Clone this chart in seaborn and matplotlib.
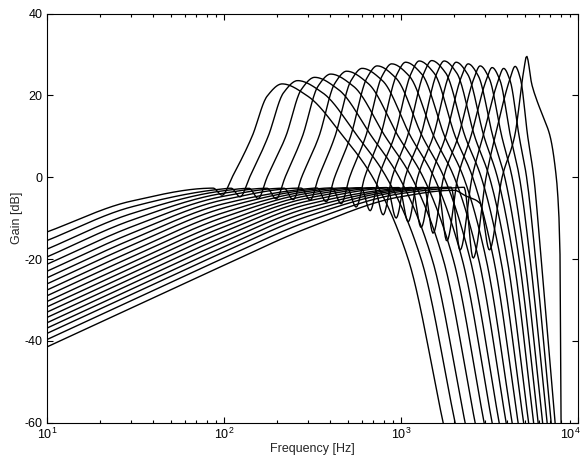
import numpy as np
import pandas as pd
import matplotlib
matplotlib.use("Agg")
import matplotlib.pyplot as plt
import matplotlib.transforms as mtransforms
import seaborn as sns

nan = np.nan
channels = list(range(19))

# ---- values (frequency in Hz, gain in dB) ----
tail_10hz = [-13.4, -15.5, -17.6, -19.5, -21.3, -23.0, -24.6, -26.1, -27.6, -29.0,
             -30.4, -31.7, -33.0, -34.3, -35.6, -36.9, -38.2, -39.7, -41.5]
tail_30hz = [-5.85, -7.28, -8.92, -10.53, -12.15, -13.73, -15.24, -16.69, -18.15, -19.53,
             -20.91, -22.19, -23.49, -24.78, -26.07, -27.37, -28.67, -30.16, -31.96]
tail_100hz = [nan, -2.84, -3.31, -3.91, -4.65, -5.52, -6.49, -7.51, -8.65, -9.78,
              -10.98, -12.14, -13.33, -14.55, -15.78, -17.04, -18.3, -19.77, -21.55]
tail_300hz = [nan, nan, nan, nan, nan, nan, -2.80, -3.09, -3.47, -3.92,
              -4.47, -5.09, -5.80, -6.60, -7.50, -8.47, -9.51, -10.78, -12.37]
tail_1khz = [nan] * 13 + [-2.68, -2.90, -3.17, -3.51, -4.01, -4.77]
tail_2khz = [nan] * 17 + [-2.6, -3.2]

dip_hz = [87.0, 110, 139.0, 175.6, 219.1, 273.4, 336.6, 409.1, 497.2, 596.7,
          706.8, 836.5, 978.1, 1158, 1354, 1618, 1924, 2278, 2308]
dip_db = [-2.68, -2.70, -2.73, -2.71, -2.70, -2.67, -2.64, -2.62, -2.59, -2.57,
          -2.56, -2.54, -2.54, -2.52, -2.51, -2.48, -2.46, -2.47, -4.5]
notch_hz = [97.8, 123.6, 156.2, 197.5, 246.3, 307.3, 378.4, 459.9, 559, 670.9,
            794.3, 940.6, 1100, 1302, 1522, 1819, 2163, 2562, 3167]
notch_db = [-4.4, -4.8, -5.2, -5.3, -5.5, -5.6, -6.0, -6.5, -7.3, -8.2,
            -9.2, -10.0, -10.9, -12.3, -13.7, -15.6, -17.8, -19.8, -17.8]
rise0_hz = [111.4, 139.9, 175.6, 222, 275.1, 343.2, 422.7, 513.6, 624.5, 749.1,
            892.9, 1058, 1244, 1483, 1745, 2099, 2528, 3033, 3736]
rise10_hz = [144.5, 178.1, 224, 278.1, 345, 424.8, 520.4, 633.4, 765.9, 920,
             1091, 1294, 1524, 1793, 2113, 2489, 2913, 3410, 4395]
lshoulder_hz = [175.6, 217.1, 273.7, 340.1, 423.2, 523.1, 642.5, 783, 949.3, 1144,
                1352, 1597, 1877, 2206, 2592, 3042, 3550, 4144, 4972]
lshoulder_db = [19.8, 20.6, 21.4, 22.2, 22.9, 23.6, 24.2, 24.7, 25.1, 25.4,
                25.5, 25.4, 25.1, 24.7, 24.2, 23.8, 23.6, 24.1, 26.6]
peak_hz = [213.5, 261.2, 325.8, 401.2, 494, 604.5, 734.5, 887.2, 1064, 1269,
           1493, 1756, 2053, 2400, 2805, 3279, 3809, 4424, 5136]
peak_db = [22.8, 23.6, 24.4, 25.2, 25.9, 26.6, 27.2, 27.7, 28.1, 28.4,
           28.5, 28.4, 28.1, 27.7, 27.2, 26.8, 26.6, 27.1, 29.6]
rshoulder_hz = [297.9, 362, 444.6, 540.5, 654, 787, 939.5, 1117, 1318, 1544,
                1791, 2074, 2390, 2744, 3155, 3625, 4144, 4739, 5496]
rshoulder_db = [19.8, 20.6, 21.4, 22.2, 22.9, 23.6, 24.2, 24.7, 25.1, 25.4,
                25.5, 25.4, 25.1, 24.7, 24.2, 23.8, 23.6, 24.1, 22.7]
fall10_hz = [472, 569, 683, 815, 967, 1135, 1321, 1536, 1768, 2029,
             2305, 2612, 2948, 3310, 3717, 4166, 4660, 5211, 6974]
fall0_hz = [693, 829, 978, 1150, 1337, 1540, 1754, 2003, 2261, 2545,
            2846, 3167, 3514, 3864, 4254, 4678, 5136, 5641, 7559]
fall20_hz = [1100, 1302, 1502, 1734, 1975, 2220, 2463, 2751, 3033, 3344,
             3663, 3986, 4338, 4660, 5005, 5377, 5776, 6204, 7943]
end60_hz = [1734, 2026, 2308, 2629, 2955, 3279, 3593, 3935, 4254, 4599,
            4940, 5272, 5627, 5967, 6325, 6709, 7068, 7443, 8046]
end70_hz = [1943, 2264, 2570, 2917, 3268, 3616, 3947, 4304, 4629, 4980,
            5325, 5655, 6004, 6345, 6709, 7091, 7433, 7789, 8150]
# extra points of the highest channel (droop before notch, shoulder after peak)
last_extra_hz = [2805, 5890, 6409, 7739]
last_extra_db = [-6.4, 18.6, 14.5, -5.7]

x_ticks = [10, 100, 1000, 10000]
x_ticklabels = [r"$10^1$", r"$10^2$", r"$10^3$", r"$10^4$"]
y_ticks = [-60, -40, -20, 0, 20, 40]


def smooth(lx, y, n=500):
    """monotone cubic (Fritsch-Carlson) line through the read points"""
    lx = np.asarray(lx, float); y = np.asarray(y, float)
    h = np.diff(lx); d = np.diff(y) / h
    m = np.zeros_like(y)
    m[0], m[-1] = d[0], d[-1]
    for k in range(1, len(y) - 1):
        if d[k - 1] * d[k] > 0:
            w1 = 2 * h[k] + h[k - 1]; w2 = h[k] + 2 * h[k - 1]
            m[k] = (w1 + w2) / (w1 / d[k - 1] + w2 / d[k])
    xs = np.linspace(lx[0], lx[-1], n)
    idx = np.clip(np.searchsorted(lx, xs) - 1, 0, len(h) - 1)
    t = (xs - lx[idx]) / h[idx]
    h00 = 2 * t**3 - 3 * t**2 + 1; h10 = t**3 - 2 * t**2 + t
    h01 = -2 * t**3 + 3 * t**2; h11 = t**3 - t**2
    ys = (h00 * y[idx] + h10 * h[idx] * m[idx] + h01 * y[idx + 1] + h11 * h[idx] * m[idx + 1])
    return xs, ys


rows = []
for c in channels:
    pts = [(10, tail_10hz[c]), (30, tail_30hz[c]), (100, tail_100hz[c]),
           (300, tail_300hz[c]), (1000, tail_1khz[c]), (2000, tail_2khz[c]),
           (dip_hz[c], dip_db[c]), (notch_hz[c], notch_db[c]), (rise0_hz[c], 0.0),
           (rise10_hz[c], 10.0), (lshoulder_hz[c], lshoulder_db[c]), (peak_hz[c], peak_db[c]),
           (rshoulder_hz[c], rshoulder_db[c]), (fall10_hz[c], 10.0), (fall0_hz[c], 0.0),
           (fall20_hz[c], -20.0), (end60_hz[c], -60.0), (end70_hz[c], -70.0)]
    if c == channels[-1]:
        pts += list(zip(last_extra_hz, last_extra_db))
    pts = [p for p in pts if not np.isnan(p[1])]
    pts = sorted(pts)
    f = np.array([p[0] for p in pts]); g = np.array([p[1] for p in pts])
    lx, ys = smooth(np.log10(f), g)
    rows.append(pd.DataFrame({"freq": 10 ** lx, "gain": ys, "channel": c}))
df = pd.concat(rows, ignore_index=True)

sns.set_style("ticks")
plt.rcParams["font.family"] = ["Liberation Sans", "DejaVu Sans"]
plt.rcParams["axes.unicode_minus"] = False
plt.rcParams["mathtext.fontset"] = "custom"
plt.rcParams["mathtext.rm"] = "Liberation Sans"
plt.rcParams["mathtext.it"] = "Liberation Sans"

fig = plt.figure(figsize=(5.86, 4.66), dpi=100)
ax = fig.add_axes([0.080, 0.093, 0.906, 0.878])
ax.set_xscale("log")
sns.lineplot(data=df, x="freq", y="gain", units="channel", estimator=None,
             sort=False, color="black", linewidth=1.0, ax=ax, legend=False)
ax.set_xlim(10, 1e4)
ax.set_ylim(-60, 40)
ax.set_xticks(x_ticks)
ax.set_xticklabels(x_ticklabels)
ax.set_yticks(y_ticks)
ax.set_yticklabels([str(v) for v in y_ticks])
ax.tick_params(which="both", direction="in", top=True, right=True, labelsize=9,
               width=0.8, colors="black")
ax.tick_params(which="major", length=4, pad=3)
ax.tick_params(which="minor", length=2)
for s in ax.spines.values():
    s.set_linewidth(0.8); s.set_color("black")
# keep the last x tick label inside the figure
last = ax.get_xticklabels()[-1]
last.set_transform(last.get_transform() +
                   mtransforms.ScaledTranslation(-7 / 100, 0, fig.dpi_scale_trans))
ax.set_xlabel("Frequency [Hz]", fontsize=9, labelpad=1)
ax.set_ylabel("Gain [dB]", fontsize=9, labelpad=1)
fig.savefig("out.png", dpi=100, facecolor="white")
